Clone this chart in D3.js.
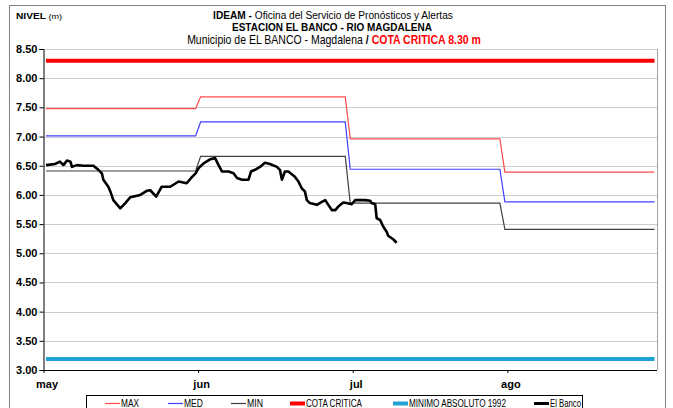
<!DOCTYPE html>
<html>
<head>
<meta charset="utf-8">
<script src="https://cdn.jsdelivr.net/npm/d3@7"></script>
<style>
	body { margin: 0; background: #fff; }
	text { font-family: 'Liberation Sans Narrow', 'Arial Narrow', 'Liberation Sans', Arial, sans-serif; }
</style>
</head>
<body>
<div id="chart"></div>
<script>
// month categories (one category per day, May 1 = day 0)
const months = ['may', 'jun', 'jul', 'ago'];
const monthTickDays = [0, 31, 62, 93];
const monthStart = [0, 31, 61, 92];
const monthEnd = [30, 60, 91, 122];

// monthly reference levels (m)
const maxLevel = [7.48, 7.68, 6.96, 6.39];
const medLevel = [7.01, 7.25, 6.44, 5.88];
const minLevel = [6.41, 6.66, 5.86, 5.41];
const cotaCritica = 8.3;
const minimoAbsoluto = 3.19;

// observed level at El Banco
const elBancoDay = [0, 1.8, 2.8, 3.5, 4.2, 4.9, 5.2, 6.2, 7.5, 9.5, 10.5, 11.2, 11.5, 12.5, 12.9, 13.5, 14.3, 14.9,
	15.9, 16.9, 18.9, 20.2, 20.9, 22.1, 23.2, 24.9, 26.6, 28.2, 29.2, 30, 30.6, 31.6, 32.9, 33.9, 34.6, 35.3, 36.6,
	37.6, 38.3, 39.3, 40.6, 41.1, 41.9, 42.9, 43.9, 44.9, 46.3, 46.9, 47.3, 47.9, 48.6, 49.9, 50.6, 51.3, 51.9, 52.3,
	52.9, 54.3, 55.3, 56, 56.6, 57.3, 58, 58.6, 59.6, 60.3, 61.3, 62, 64, 65, 65.3, 66, 66.3, 67, 67.6, 68.3, 68.6,
	69.6, 70.3];
const elBancoLevel = [6.51, 6.53, 6.57, 6.51, 6.59, 6.57, 6.48, 6.51, 6.5, 6.5, 6.43, 6.37, 6.26, 6.14, 6.06, 5.91,
	5.83, 5.77, 5.86, 5.96, 6.0, 6.07, 6.08, 5.97, 6.14, 6.14, 6.23, 6.2, 6.3, 6.37, 6.46, 6.54, 6.61, 6.63, 6.51,
	6.4, 6.4, 6.37, 6.29, 6.26, 6.26, 6.4, 6.43, 6.48, 6.55, 6.53, 6.48, 6.43, 6.26, 6.4, 6.4, 6.31, 6.23, 6.11, 6.06,
	5.91, 5.86, 5.83, 5.88, 5.91, 5.83, 5.74, 5.74, 5.8, 5.87, 5.86, 5.84, 5.91, 5.91, 5.9, 5.86, 5.84, 5.6, 5.57,
	5.46, 5.37, 5.3, 5.24, 5.18];

const yTicks = d3.range(3, 8.51, 0.5);

const legendItems = [
	{ label: 'MAX', color: '#ff4d4d', width: 1.2 },
	{ label: 'MED', color: '#4040ff', width: 1.2 },
	{ label: 'MIN', color: '#404040', width: 1.2 },
	{ label: 'COTA CRITICA', color: '#ff0000', width: 4 },
	{ label: 'MINIMO ABSOLUTO 1992', color: '#1fa3d4', width: 4 },
	{ label: 'El Banco', color: '#000000', width: 3 }
];

const width = 673;
const height = 408;
const plot = { left: 43.5, right: 657, top: 49, bottom: 370 };

const svg = d3.select('#chart')
	.append('svg')
	.attr('width', width)
	.attr('height', height);

// category axis: ticks on day boundaries, points in the middle of each day
const x = d3.scaleLinear().domain([0, 123]).range([plot.left, plot.right]);
const y = d3.scaleLinear().domain([3, 8.5]).range([plot.bottom, plot.top]);

// squeeze a text horizontally so it fits the given width (narrow font look)
const fitWidth = (sel, cx, target) => {
	const w = sel.node().getComputedTextLength();
	const k = target / w;
	sel.attr('transform', `translate(${cx},0) scale(${k},1) translate(${-cx},0)`);
};

// outer frame
svg.append('rect')
	.attr('x', 9.5).attr('y', 5.5)
	.attr('width', 656).attr('height', 420)
	.attr('fill', 'none')
	.attr('stroke', '#7f7f7f');

// grid
svg.append('g')
	.selectAll('line')
	.data(yTicks.filter(t => t > 3))
	.enter()
	.append('line')
	.attr('x1', plot.left)
	.attr('x2', plot.right)
	.attr('y1', d => Math.round(y(d)) + 0.5)
	.attr('y2', d => Math.round(y(d)) + 0.5)
	.attr('stroke', '#9a9a9a')
	.attr('stroke-dasharray', '1,1');

svg.append('line')
	.attr('x1', plot.right + 0.5).attr('x2', plot.right + 0.5)
	.attr('y1', plot.top).attr('y2', plot.bottom)
	.attr('stroke', '#a0a0a0');

// step series
const stepPoints = levels => levels.flatMap((v, i) => [
	{ d: monthStart[i], v },
	{ d: monthEnd[i], v }
]);

const line = d3.line().x(p => x(p.d + 0.5)).y(p => y(p.v));

const drawFlat = (value, color, w) => {
	svg.append('line')
		.attr('x1', x(0.5)).attr('x2', x(122.5))
		.attr('y1', y(value)).attr('y2', y(value))
		.attr('stroke', color)
		.attr('stroke-width', w);
};

drawFlat(cotaCritica, '#ff0000', 4);
drawFlat(minimoAbsoluto, '#1fa3d4', 4);

[[maxLevel, '#ff4d4d'], [medLevel, '#4040ff'], [minLevel, '#404040']].forEach(([levels, color]) => {
	svg.append('path')
		.attr('d', line(stepPoints(levels)))
		.attr('fill', 'none')
		.attr('stroke', color)
		.attr('stroke-width', 1.2);
});

svg.append('path')
	.attr('d', line(elBancoDay.map((d, i) => ({ d, v: elBancoLevel[i] }))))
	.attr('fill', 'none')
	.attr('stroke', '#000')
	.attr('stroke-width', 2.6)
	.attr('stroke-linejoin', 'round');

// axes
const yAxis = svg.append('g')
	.attr('transform', `translate(${plot.left},0)`)
	.call(d3.axisLeft(y).tickValues(yTicks).tickSize(4).tickFormat(d3.format('.2f')));
yAxis.select('.domain').attr('stroke', '#000');
yAxis.selectAll('text')
	.attr('font-size', 11)
	.attr('font-weight', 'bold')
	.attr('fill', '#000')
	.attr('x', -6);

const xAxis = svg.append('g')
	.attr('transform', `translate(0,${plot.bottom})`)
	.call(d3.axisBottom(x).tickValues(monthTickDays).tickSize(3).tickFormat((d, i) => months[i]));
xAxis.select('.domain').attr('stroke', '#000').attr('d', `M${plot.left},0.5H${plot.right}`);
xAxis.selectAll('text')
	.attr('font-size', 11)
	.attr('font-weight', 'bold')
	.attr('fill', '#000')
	.attr('dx', 3)
	.attr('y', 10);

// titles
svg.append('text')
	.attr('x', 16).attr('y', 19)
	.attr('font-size', 9)
	.call(t => {
		t.append('tspan').attr('font-weight', 'bold').text('NIVEL');
		t.append('tspan').attr('font-size', 8).text(' (m)');
	})
	.call(t => fitWidth(t, 16, 46));

const title = svg.append('g').attr('text-anchor', 'middle');

title.append('text')
	.attr('x', 333).attr('y', 19)
	.attr('font-size', 11.5)
	.call(t => {
		t.append('tspan').attr('font-weight', 'bold').text('IDEAM - ');
		t.append('tspan').text('Oficina del Servicio de Pronósticos y Alertas');
	})
	.call(t => fitWidth(t, 333, 240));

title.append('text')
	.attr('x', 332).attr('y', 31.5)
	.attr('font-size', 11.5)
	.attr('font-weight', 'bold')
	.text('ESTACION EL BANCO -  RIO MAGDALENA')
	.call(t => fitWidth(t, 332, 200));

title.append('text')
	.attr('x', 334).attr('y', 44)
	.attr('font-size', 12)
	.call(t => {
		t.append('tspan').text('Municipio de EL BANCO - Magdalena ');
		t.append('tspan').attr('font-weight', 'bold').text(' /  ');
		t.append('tspan').attr('font-weight', 'bold').attr('fill', '#ff0000').text('COTA CRITICA  8.30 m');
	})
	.call(t => fitWidth(t, 334, 294));

// legend
const legendX = [105, 168, 231, 290, 393, 534];
const legendTextWidth = [18, 19, 16, 56, 97, 31];
const legend = svg.append('g');

legend.append('rect')
	.attr('x', 86.5).attr('y', 395.5)
	.attr('width', 496).attr('height', 20)
	.attr('fill', '#fff')
	.attr('stroke', '#000');

const item = legend.selectAll('g.item')
	.data(legendItems)
	.enter()
	.append('g')
	.attr('class', 'item')
	.attr('transform', (d, i) => `translate(${legendX[i]},403.5)`);

item.append('line')
	.attr('x1', 0).attr('x2', 15)
	.attr('stroke', d => d.color)
	.attr('stroke-width', d => d.width);

item.append('text')
	.attr('x', 16).attr('dy', '0.35em')
	.attr('font-size', 10)
	.text(d => d.label)
	.each(function(d, i) {
		fitWidth(d3.select(this), 16, legendTextWidth[i]);
	});
</script>
</body>
</html>
